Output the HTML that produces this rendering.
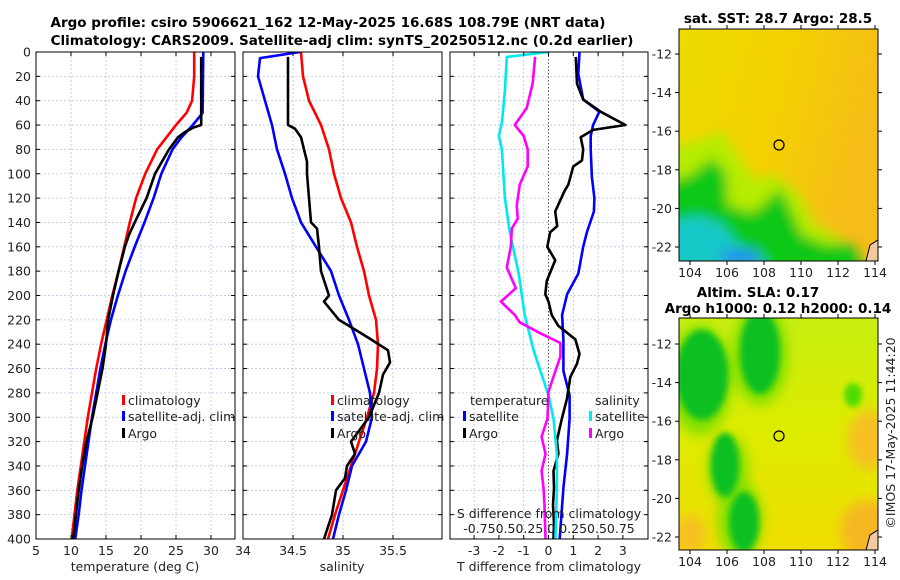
<!DOCTYPE html>
<html><head><meta charset="utf-8"><style>
html,body{margin:0;padding:0;background:#fff;}
svg{display:block;font-family:"DejaVu Sans","Liberation Sans",sans-serif;}
.t{font-size:12.5px;fill:#222;}
.ti{font-size:13.5px;font-weight:bold;fill:#000;}
.g{stroke:#b8c4e8;stroke-width:0.8;stroke-dasharray:2,2;}
</style></head><body>
<svg id="chart" width="900" height="580" viewBox="0 0 900 580">
<defs>
<filter id="bl" x="-50%" y="-50%" width="200%" height="200%"><feGaussianBlur stdDeviation="6"/></filter>
<filter id="bl2" x="-50%" y="-50%" width="200%" height="200%"><feGaussianBlur stdDeviation="3"/></filter>
<clipPath id="c1"><rect x="36" y="52" width="199" height="487"/></clipPath>
<clipPath id="c2"><rect x="243" y="52" width="199" height="487"/></clipPath>
<clipPath id="c3"><rect x="450" y="52" width="198" height="487"/></clipPath>
<clipPath id="m1"><rect x="679" y="29" width="199" height="232"/></clipPath>
<clipPath id="m2"><rect x="679" y="318" width="199" height="232"/></clipPath>
<linearGradient id="sstg" x1="0" y1="0" x2="1" y2="0.3"><stop offset="0" stop-color="#ecdc00"/><stop offset="0.5" stop-color="#f4d200"/><stop offset="1" stop-color="#f6bc18"/></linearGradient>
<linearGradient id="slag" x1="0" y1="0" x2="0" y2="1"><stop offset="0" stop-color="#c8ee10"/><stop offset="0.45" stop-color="#dcec00"/><stop offset="1" stop-color="#f0de00"/></linearGradient>
</defs>
<text class="ti" x="328" y="27" text-anchor="middle">Argo profile: csiro 5906621_162 12-May-2025 16.68S 108.79E (NRT data)</text>
<text class="ti" x="342" y="45" text-anchor="middle">Climatology: CARS2009. Satellite-adj clim: synTS_20250512.nc (0.2d earlier)</text>
<g id="grids"></g>
<g id="lines"></g>
<g id="axes"></g>
<!-- maps -->
<g clip-path="url(#m1)">
<rect x="679" y="29" width="199" height="232" fill="url(#sstg)"/>
<g filter="url(#bl)">
<polygon points="660,150 700,140 722,132 740,160 755,180 775,175 800,195 815,225 840,238 860,270 660,270" fill="#b6ec00"/>
<polygon points="660,185 690,175 712,158 726,172 728,205 752,213 768,200 780,188 792,212 802,235 825,244 852,244 865,270 660,270" fill="#10c818"/>
<polygon points="660,222 700,216 722,224 738,245 760,255 770,270 660,270" fill="#18c8c8"/>
<rect x="722" y="250" width="36" height="15" fill="#2090f0"/>
</g>
<polygon points="866,261 870,245 878,240 878,261" fill="#f2c8a0" stroke="#000" stroke-width="1"/>
</g>
<rect x="679" y="29" width="199" height="232" fill="none" stroke="#000" stroke-width="1"/>
<circle cx="779" cy="145" r="5" fill="none" stroke="#000" stroke-width="1.3"/>
<text class="ti" x="778" y="23" text-anchor="middle">sat. SST: 28.7 Argo: 28.5</text>
<g clip-path="url(#m2)">
<rect x="679" y="318" width="199" height="232" fill="url(#slag)"/>
<g filter="url(#bl)">
<ellipse cx="700" cy="380" rx="32" ry="55" fill="#80e000"/>
<ellipse cx="760" cy="355" rx="28" ry="50" fill="#80e000"/>
<ellipse cx="728" cy="470" rx="20" ry="35" fill="#80e000"/>
<ellipse cx="740" cy="520" rx="22" ry="40" fill="#80e000"/>
<ellipse cx="868" cy="440" rx="20" ry="30" fill="#f6c020"/>
<ellipse cx="868" cy="530" rx="28" ry="30" fill="#f6b820"/>
<ellipse cx="690" cy="535" rx="16" ry="20" fill="#f6c020"/>
</g>
<g filter="url(#bl2)">
<ellipse cx="702" cy="375" rx="26" ry="45" fill="#10c020"/>
<ellipse cx="760" cy="352" rx="20" ry="42" fill="#10c020"/>
<ellipse cx="725" cy="465" rx="14" ry="32" fill="#10c020"/>
<ellipse cx="744" cy="522" rx="15" ry="30" fill="#10c020"/>
<ellipse cx="853" cy="395" rx="9" ry="12" fill="#50dc00"/>
</g>
<polygon points="866,550 870,535 878,530 878,550" fill="#f2c8a0" stroke="#000" stroke-width="1"/>
</g>
<rect x="679" y="318" width="199" height="232" fill="none" stroke="#000" stroke-width="1"/>
<circle cx="779" cy="436" r="5" fill="none" stroke="#000" stroke-width="1.3"/>
<text class="ti" x="758" y="297" text-anchor="middle">Altim. SLA: 0.17</text>
<text class="ti" x="778" y="313" text-anchor="middle">Argo h1000: 0.12 h2000: 0.14</text>
<text class="t" x="0" y="0" transform="translate(895,433) rotate(-90)" text-anchor="middle">©IMOS 17-May-2025 11:44:20</text>
<g id="mapaxes"></g>
</svg>
<script>
// ---- data ----
const tClimDepth=[0,20,40,50,60,80,100,120,140,160,180,200,220,240,260,280,300,320,340,360,380,400];
const tClim=[27.6,27.6,27.3,26.5,25.0,22.3,20.6,19.3,18.4,17.6,16.8,15.9,15.1,14.3,13.6,13.0,12.4,11.9,11.4,10.9,10.5,10.1];
const tSatDepth=[0,50,60,70,80,100,120,140,160,180,200,220,240,260,280,300,320,340,360,380,400];
const tSat=[28.9,28.8,27.4,25.8,24.5,22.9,21.8,20.5,19.1,17.8,16.7,15.7,14.9,14.2,13.6,13.0,12.5,12.0,11.5,11.1,10.6];
const tArgoDepth=[4,60,62,66,70,80,100,120,140,150,160,180,200,220,240,260,280,300,320,340,360,380,400];
const tArgo=[28.6,28.6,27.5,26.2,25.3,24.0,22.0,20.8,19.1,18.3,17.7,16.8,16.0,15.3,15.0,14.5,13.8,13.1,12.2,11.6,11.1,10.7,10.3];
const sClimDepth=[0,20,40,60,80,100,120,140,160,180,200,220,240,260,280,300,320,340,360,380,400];
const sClim=[34.58,34.60,34.66,34.78,34.86,34.91,34.98,35.08,35.14,35.21,35.26,35.33,35.35,35.34,35.31,35.24,35.16,35.08,35.00,34.92,34.85];
const sSatDepth=[0,5,20,40,60,80,100,120,140,160,180,200,220,240,260,280,300,320,340,360,380,400];
const sSat=[34.57,34.17,34.15,34.22,34.29,34.34,34.42,34.49,34.58,34.73,34.88,34.96,35.06,35.15,35.21,35.27,35.29,35.23,35.09,35.03,34.96,34.90];
const sArgoDepth=[4,60,63,70,80,90,100,120,140,145,160,180,200,205,220,225,235,245,255,265,280,300,320,330,340,350,360,380,400];
const sArgo=[34.45,34.45,34.52,34.58,34.61,34.64,34.64,34.66,34.68,34.74,34.76,34.78,34.86,34.81,34.96,35.06,35.26,35.45,35.47,35.40,35.36,35.26,35.08,35.12,35.04,35.02,34.93,34.89,34.81];
const dTSatDepth=[0,18,39,49,60,69,80,103,120,131,148,160,182,199,216,236,262,282,301,330,358,400];
const dTSat=[1.25,1.2,1.4,2.05,1.8,1.7,1.7,1.75,1.85,1.83,1.55,1.4,1.2,0.75,0.55,0.6,0.6,0.85,0.85,0.75,0.6,0.45];
const dTArgoDepth=[4,26,39,49,60,64,70,80,89,94,109,114,131,143,148,160,171,188,199,205,216,225,236,248,256,267,285,301,319,330,344,358,372,387,400];
const dTArgo=[1.1,1.15,1.4,2.1,3.1,1.8,1.3,1.4,1.35,1.0,0.8,0.65,0.27,0.35,0.07,-0.05,0.27,-0.07,-0.13,0.0,0.13,0.4,1.08,1.25,1.15,0.88,0.74,0.54,0.34,0.4,0.2,0.22,0.18,0.22,0.2];
const dSSatDepth=[0,4,32,58,69,80,120,148,182,216,245,282,301,330,358,400];
const dSSat=[0,-0.42,-0.44,-0.47,-0.5,-0.47,-0.44,-0.39,-0.3,-0.24,-0.15,0,0.05,0.085,0.085,0.07];
const dSArgoDepth=[4,26,46,60,69,80,94,109,126,137,145,160,177,194,205,216,222,231,239,250,262,279,301,316,330,344,358,372,400];
const dSArgo=[-0.135,-0.16,-0.22,-0.34,-0.25,-0.21,-0.21,-0.29,-0.32,-0.31,-0.37,-0.38,-0.42,-0.33,-0.48,-0.34,-0.29,-0.085,0.12,0.12,0.07,0,-0.01,-0.07,-0.03,-0.07,-0.05,-0.04,-0.03];
const depthTicks=[0,20,40,60,80,100,120,140,160,180,200,220,240,260,280,300,320,340,360,380,400];
const tTicks=[5,10,15,20,25,30];
const sTicks=[34,34.5,35,35.5];
const dTTicks=[-3,-2,-1,0,1,2,3];
const lonTicks=[104,106,108,110,112,114];
const latTicks=[-12,-14,-16,-18,-20,-22];

// ---- scales ----
const Y0=52,Y1=539;
const yD=d=>Y0+d*(Y1-Y0)/400;
const xT=v=>36+(v-5)*7;
const xS=v=>243+(v-34)*100;
const xDT=v=>548.5+v*24.8;
const xDS=v=>548.5+v*99.2;
const NS='http://www.w3.org/2000/svg';
function mk(tag,attrs,parent){const e=document.createElementNS(NS,tag);for(const k in attrs)e.setAttribute(k,attrs[k]);parent.appendChild(e);return e;}
const grids=document.getElementById('grids'),lines=document.getElementById('lines'),axes=document.getElementById('axes');

const panels=[{x:36,w:199,ticks:tTicks,xf:xT,clip:'c1',lab:v=>String(v),title:'temperature (deg C)',tx:135},
{x:243,w:199,ticks:sTicks,xf:xS,clip:'c2',lab:v=>String(v),title:'salinity',tx:342},
{x:450,w:198,ticks:dTTicks,xf:xDT,clip:'c3',lab:v=>String(v),title:'T difference from climatology',tx:549}];
panels.forEach((p,i)=>{
  depthTicks.forEach(d=>{
    const gl=mk('line',{x1:p.x,x2:p.x+p.w,y1:yD(d),y2:yD(d),class:'g'},grids);
    
    
    mk('line',{x1:p.x,x2:p.x+4,y1:yD(d),y2:yD(d),stroke:'#000'},axes);
    mk('line',{x1:p.x+p.w-4,x2:p.x+p.w,y1:yD(d),y2:yD(d),stroke:'#000'},axes);
    if(i===0){const t=mk('text',{x:31,y:yD(d)+4.5,'text-anchor':'end',class:'t'},axes);t.textContent=d;
      
      }
  });
  p.ticks.forEach(v=>{
    const x=p.xf(v);
    if(x>p.x+1&&x<p.x+p.w-1&&!(i===2&&v===0)){const gl=mk('line',{x1:x,x2:x,y1:Y0,y2:Y1,class:'g'},grids);
      
      }
    mk('line',{x1:x,x2:x,y1:Y1,y2:Y1-4,stroke:'#000'},axes);
    mk('line',{x1:x,x2:x,y1:Y0,y2:Y0+4,stroke:'#000'},axes);
    const t=mk('text',{x:x,y:555,'text-anchor':'middle',class:'t'},axes);t.textContent=p.lab(v);
    
    
  });
  const r=mk('rect',{x:p.x,y:Y0,width:p.w,height:Y1-Y0,fill:'none',stroke:'#000','stroke-width':1},axes);
  
  
  const tt=mk('text',{x:p.tx,y:571,'text-anchor':'middle',class:'t'},axes);tt.textContent=p.title;
  
  
});
const zl=mk('line',{x1:xDT(0),x2:xDT(0),y1:Y0,y2:Y1,stroke:'#554',"stroke-width":1,'stroke-dasharray':'1.5,2'},grids);



function series(ds,vs,xf,col,clip,name){
  const pts=ds.map((d,i)=>xf(vs[i]).toFixed(1)+','+yD(d).toFixed(1)).join(' ');
  const pl=mk('polyline',{points:pts,fill:'none',stroke:col,'stroke-width':2.6,'stroke-linejoin':'round','clip-path':'url(#'+clip+')'},lines);
  
  
}
series(tClimDepth,tClim,xT,'#f00','c1','temp-climatology-line');
series(tSatDepth,tSat,xT,'#00f','c1','temp-satellite-line');
series(tArgoDepth,tArgo,xT,'#000','c1','temp-argo-line');
series(sClimDepth,sClim,xS,'#f00','c2','sal-climatology-line');
series(sSatDepth,sSat,xS,'#00f','c2','sal-satellite-line');
series(sArgoDepth,sArgo,xS,'#000','c2','sal-argo-line');
series(dTSatDepth,dTSat,xDT,'#00f','c3','dt-satellite-line');
series(dTArgoDepth,dTArgo,xDT,'#000','c3','dt-argo-line');
series(dSSatDepth,dSSat,xDS,'#00e8f0','c3','ds-satellite-line');
series(dSArgoDepth,dSArgo,xDS,'#f0f','c3','ds-argo-line');

function legend(x,y,col,txt,name){
  const m=mk('rect',{x:x,y:y-10,width:3,height:10,fill:col},axes);
  
  
  const t=mk('text',{x:x+6,y:y,class:'t'},axes);t.textContent=txt;
  
  
}
legend(122,405,'#f00','climatology','legend-t-climatology');
legend(122,421,'#00f','satellite-adj. clim','legend-t-satellite');
legend(122,438,'#000','Argo','legend-t-argo');
legend(331,405,'#f00','climatology','legend-s-climatology');
legend(331,421,'#00f','satellite-adj. clim','legend-s-satellite');
legend(331,438,'#000','Argo','legend-s-argo');
legend(463,421,'#00f','satellite','legend-dt-satellite');
legend(463,438,'#000','Argo','legend-dt-argo');
legend(589,421,'#00e8f0','satellite','legend-ds-satellite');
legend(589,438,'#f0f','Argo','legend-ds-argo');
[[470,405,'temperature','legend-temp-header'],[595,405,'salinity','legend-sal-header'],
 [549,518,'S difference from climatology','s-diff-axis-title'],[549,533,'-0.750.50.25 0 0.250.50.75','s-diff-tick-labels']].forEach(a=>{
  const t=mk('text',{x:a[0],y:a[1],class:'t','text-anchor':a[3].startsWith('s-')?'middle':'start'},axes);t.textContent=a[2];
  
  
});

// map axes
const ma=document.getElementById('mapaxes');
const xLon=v=>690+(v-104)*18.5;
[[29,261,54,19.3],[318,550,344,19.3]].forEach((m,k)=>{
  lonTicks.forEach(v=>{
    const x=xLon(v);
    mk('line',{x1:x,x2:x,y1:m[1],y2:m[1]+4,stroke:'#000'},ma);
    mk('line',{x1:x,x2:x,y1:m[0],y2:m[0]-4,stroke:'#000'},ma);
    const t=mk('text',{x:x,y:m[1]+16,'text-anchor':'middle',class:'t'},ma);t.textContent=v;
    
    
  });
  latTicks.forEach(v=>{
    const y=m[2]+(-12-v)*m[3];
    mk('line',{x1:679,x2:675,y1:y,y2:y,stroke:'#000'},ma);
    mk('line',{x1:878,x2:882,y1:y,y2:y,stroke:'#000'},ma);
    const t=mk('text',{x:672,y:y+4.5,'text-anchor':'end',class:'t'},ma);t.textContent=v;
    
    
  });
});
</script>
</body></html>
